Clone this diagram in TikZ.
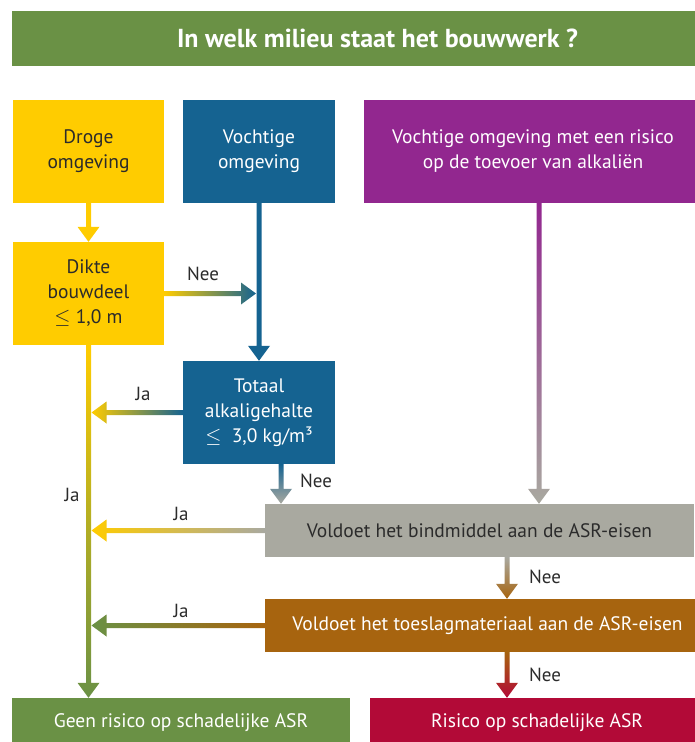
\documentclass[tikz,border=0pt]{standalone}
\usepackage{fontspec}
\setmainfont{PT Sans}
\usetikzlibrary{calc}

\definecolor{groen}{HTML}{6A9145}
\definecolor{geel}{HTML}{FFCC00}
\definecolor{blauw}{HTML}{156391}
\definecolor{paars}{HTML}{92278F}
\definecolor{grijs}{HTML}{A9A9A0}
\definecolor{bruin}{HTML}{A7640F}
\definecolor{rood}{HTML}{B20A37}
\definecolor{donker}{HTML}{2B2B2B}

% shaded arrow going down: from, to, top colour, bottom colour
\newcommand{\vpijl}[4]{%
  \coordinate (punt) at (#1 |- #2);
  \shade[top color=#3, bottom color=#4]
    ($(#1)+(-2.5,0)$) -- ($(punt)+(-2.5,-15)$) -- ($(punt)+(-11,-15)$) -- (punt)
    -- ($(punt)+(11,-15)$) -- ($(punt)+(2.5,-15)$) -- ($(#1)+(2.5,0)$) -- cycle;}
% shaded arrow sideways: from, to, left colour, right colour, direction (1 right, -1 left)
\newcommand{\hpijl}[5]{%
  \coordinate (punt) at (#2 |- #1);
  \shade[left color=#3, right color=#4]
    ($(#1)+(0,-2.5)$) -- ($(punt)+(#5*-15,-2.5)$) -- ($(punt)+(#5*-15,-11)$) -- (punt)
    -- ($(punt)+(#5*-15,11)$) -- ($(punt)+(#5*-15,2.5)$) -- ($(#1)+(0,2.5)$) -- cycle;}

\begin{document}
\begin{tikzpicture}[x=1pt, y=-1pt,
    box/.style={rectangle, inner sep=0pt, align=center, font=\fontsize{19.5}{25}\selectfont},
    lbl/.style={font=\fontsize{19}{20}\selectfont, text=donker}]
  \useasboundingbox (0,0) rectangle (694,742);

  \node[box, fill=groen, text=white, minimum width=731pt, minimum height=55pt,
        font=\bfseries\fontsize{26}{28}\selectfont] (kop) at (377.5,38.5) {In welk milieu staat het bouwwerk ?};

  \node[box, fill=geel, text=donker, minimum width=151pt, minimum height=103pt] (droog) at (88.5,151.5) {Droge\\omgeving};
  \node[box, fill=blauw, text=white, minimum width=152pt, minimum height=103pt] (vocht) at (259,151.5) {Vochtige\\omgeving};
  \node[box, fill=paars, text=white, minimum width=338pt, minimum height=103pt] (alkali) at (533,151.5) {Vochtige omgeving met een risico\\op de toevoer van alkaliën};
  \node[box, fill=geel, text=donker, minimum width=151pt, minimum height=103pt] (dikte) at (88.5,293.5) {Dikte\\bouwdeel\\$\leq$ 1,0 m};
  \node[box, fill=blauw, text=white, minimum width=152pt, minimum height=103pt] (totaal) at (259,412.5) {Totaal\\alkaligehalte\\$\leq$~ 3,0 kg/m³};
  \node[box, fill=grijs, text=donker, minimum width=429pt, minimum height=53pt] (bind) at (479.5,530.5) {Voldoet het bindmiddel aan de ASR-eisen};
  \node[box, fill=bruin, text=white, minimum width=445pt, minimum height=53pt] (toeslag) at (487.5,625.5) {Voldoet het toeslagmateriaal aan de ASR-eisen};
  \node[box, fill=groen, text=white, minimum width=338pt, minimum height=50pt] (geen) at (181,723) {Geen risico op schadelijke ASR};
  \node[box, fill=rood, text=white, minimum width=334pt, minimum height=50pt] (risico) at (537,723) {Risico op schadelijke ASR};

  \coordinate (jalijn) at ([xshift=3pt]dikte.south);
  \coordinate (blauwlijn) at ([xshift=-3pt]vocht.south);
  \coordinate (totaaluit) at ([xshift=22pt]totaal.south);
  \coordinate (alkaliuit) at ([xshift=6pt]alkali.south);
  \coordinate (binduit) at ([xshift=27.5pt]bind.south);
  \coordinate (toeslaguit) at (binduit |- toeslag.south);

  \vpijl{droog.south}{dikte.north}{geel}{geel}
  \vpijl{vocht.south}{totaal.north}{blauw}{blauw}
  \hpijl{dikte.east}{blauwlijn}{geel}{blauw}{1}
  \vpijl{dikte.south}{geen.north}{geel}{groen}
  \hpijl{totaal.west}{jalijn}{geel}{blauw}{-1}
  \vpijl{totaaluit}{bind.north}{blauw}{grijs}
  \vpijl{alkaliuit}{bind.north}{paars}{grijs}
  \hpijl{bind.west}{jalijn}{geel}{grijs}{-1}
  \vpijl{binduit}{toeslag.north}{grijs}{bruin}
  \hpijl{toeslag.west}{jalijn}{groen}{bruin}{-1}
  \vpijl{toeslaguit}{risico.north}{bruin}{rood}

  \node[lbl] (nee1) at (203,274) {Nee};
  \node[lbl] (ja1) at (143,394) {Ja};
  \node[lbl] (ja2) at (72,495) {Ja};
  \node[lbl] (nee2) at (316,481) {Nee};
  \node[lbl] (ja3) at (181,514) {Ja};
  \node[lbl] (nee3) at (545,577) {Nee};
  \node[lbl] (ja4) at (181,611) {Ja};
  \node[lbl] (nee4) at (545,675) {Nee};
\end{tikzpicture}
\end{document}
